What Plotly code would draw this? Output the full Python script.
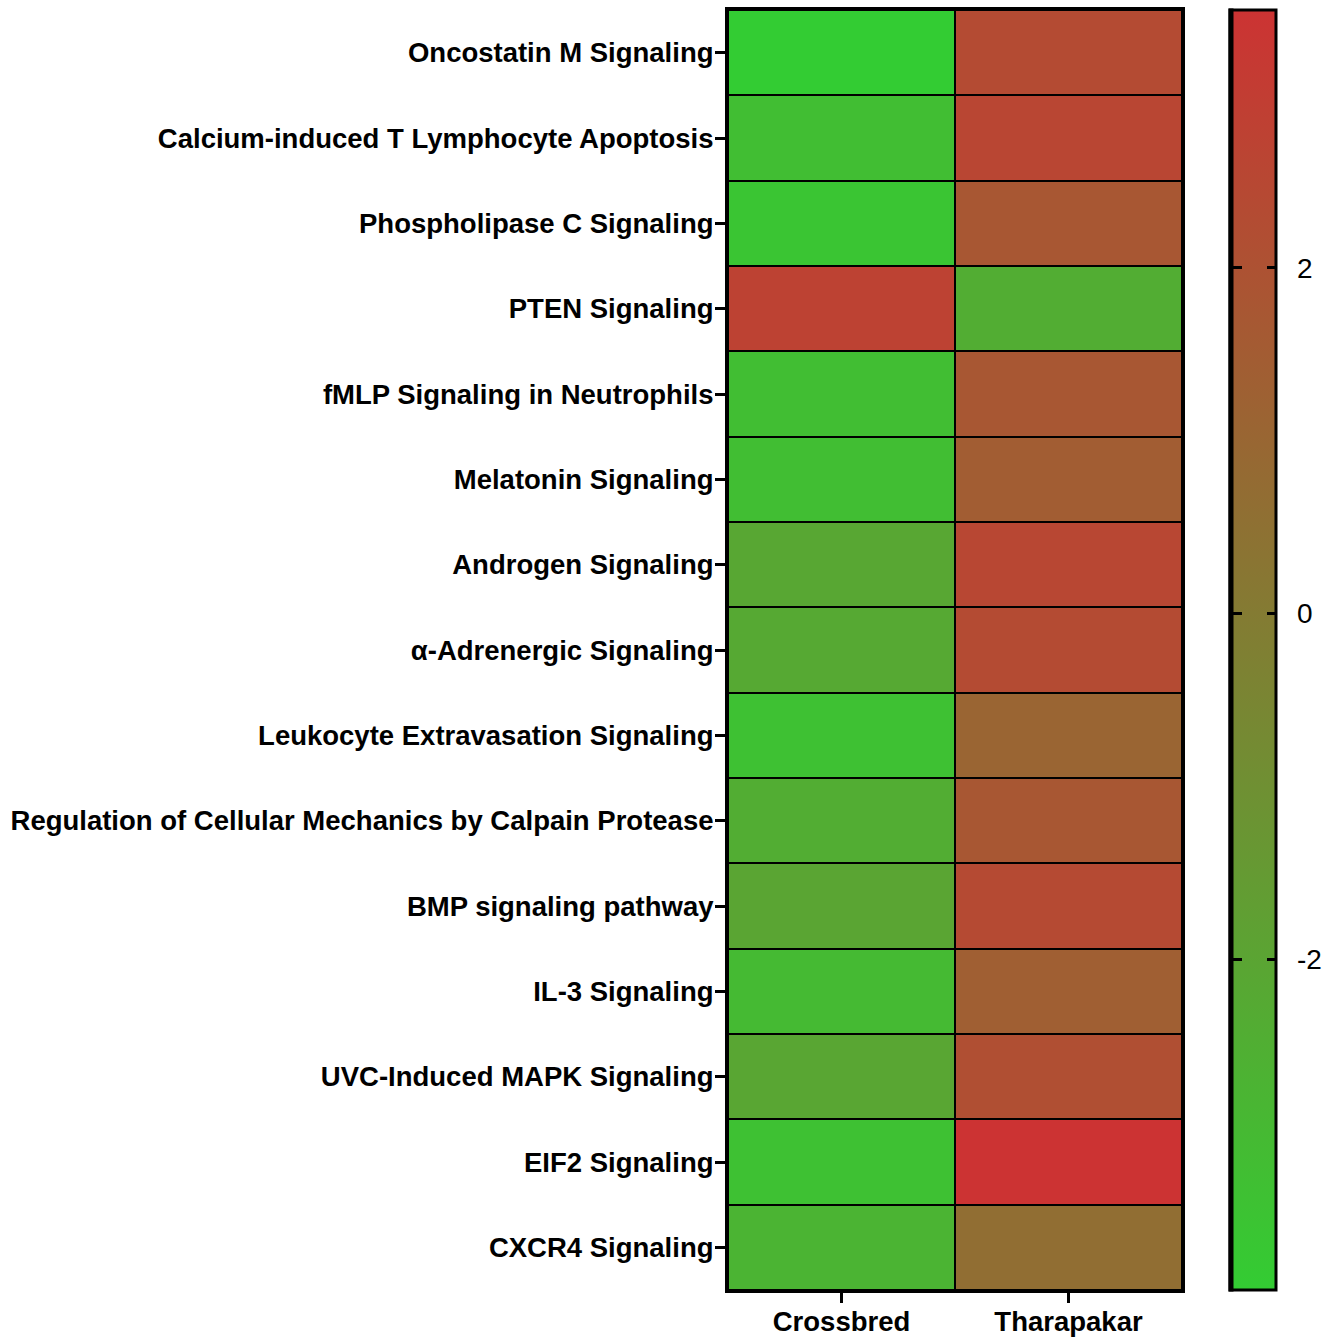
import plotly.graph_objects as go

# Pathways (top to bottom) and the two breeds compared
pathways = [
    "Oncostatin M Signaling",
    "Calcium-induced T Lymphocyte Apoptosis",
    "Phospholipase C Signaling",
    "PTEN Signaling",
    "fMLP Signaling in Neutrophils",
    "Melatonin Signaling",
    "Androgen Signaling",
    "α-Adrenergic Signaling",
    "Leukocyte Extravasation Signaling",
    "Regulation of Cellular Mechanics by Calpain Protease",
    "BMP signaling pathway",
    "IL-3 Signaling",
    "UVC-Induced MAPK Signaling",
    "EIF2 Signaling",
    "CXCR4 Signaling",
]
breeds = ["Crossbred", "Tharapakar"]

# Activation z-scores per pathway
crossbred = [-3.91, -3.24, -3.58, 2.76, -3.24, -3.25, -2.13, -2.20,
             -3.38, -2.43, -2.03, -3.04, -2.05, -3.38, -2.75]
tharapakar = [2.33, 2.57, 1.75, -2.40, 1.75, 1.45, 2.53, 2.32,
              1.07, 1.75, 2.37, 1.36, 2.13, 3.49, 0.63]

cbar_ticks = [-2, 0, 2]

z = [[c, t] for c, t in zip(crossbred, tharapakar)]
zmin = min(crossbred + tharapakar)
zmax = max(crossbred + tharapakar)

FONT = "Liberation Sans, Arial, sans-serif"
SCALE = [[0, "#33cc33"], [1, "#cc3333"]]
CB_X = 1.105

fig = go.Figure()

# Main heatmap with its colour bar (ticks on the right-hand edge)
fig.add_trace(
    go.Heatmap(
        z=z, x=breeds, y=pathways,
        zmin=zmin, zmax=zmax, colorscale=SCALE,
        xgap=2, ygap=2,
        colorbar=dict(
            x=CB_X, xanchor="left", xpad=0,
            y=0, yanchor="bottom", len=1, lenmode="fraction", ypad=0,
            thickness=46,
            outlinewidth=3, outlinecolor="black",
            tickvals=cbar_ticks,
            ticktext=["\u00a0\u2009" + str(v) for v in cbar_ticks],
            ticks="inside", ticklen=10, tickwidth=3, tickcolor="black",
            tickfont=dict(family=FONT, size=28, color="black"),
        ),
    )
)

# Same cells again, whose slim colour bar supplies the tick marks on the
# left-hand edge of the main colour bar
fig.add_trace(
    go.Heatmap(
        z=z, x=breeds, y=pathways,
        zmin=zmin, zmax=zmax, colorscale=SCALE,
        xgap=2, ygap=2,
        hoverinfo="skip",
        colorbar=dict(
            x=CB_X, xanchor="left", xpad=0,
            y=0, yanchor="bottom", len=1, lenmode="fraction", ypad=0,
            thickness=2,
            outlinewidth=3, outlinecolor="black",
            tickvals=cbar_ticks,
            ticks="outside", ticklen=9, tickwidth=3, tickcolor="black",
            showticklabels=False,
        ),
    )
)

fig.update_layout(
    width=1324,
    height=1337,
    margin=dict(l=728, r=142, t=10, b=47, autoexpand=False),
    paper_bgcolor="white",
    plot_bgcolor="black",
    font=dict(family=FONT, color="black"),
)
fig.update_xaxes(
    automargin=False,
    showline=True, linecolor="black", linewidth=3, mirror=True,
    ticks="outside", ticklen=10, tickwidth=3, tickcolor="black",
    tickfont=dict(family=FONT, size=27.5, color="black", weight="bold"),
    ticklabelstandoff=-5,
    showgrid=False, zeroline=False,
)
fig.update_yaxes(
    automargin=False,
    autorange="reversed",
    showline=True, linecolor="black", linewidth=3, mirror=True,
    ticks="outside", ticklen=10, tickwidth=3, tickcolor="black",
    tickfont=dict(family=FONT, size=27.5, color="black", weight="bold"),
    ticklabelstandoff=-4,
    showgrid=False, zeroline=False,
)

fig.write_html("out.html")
